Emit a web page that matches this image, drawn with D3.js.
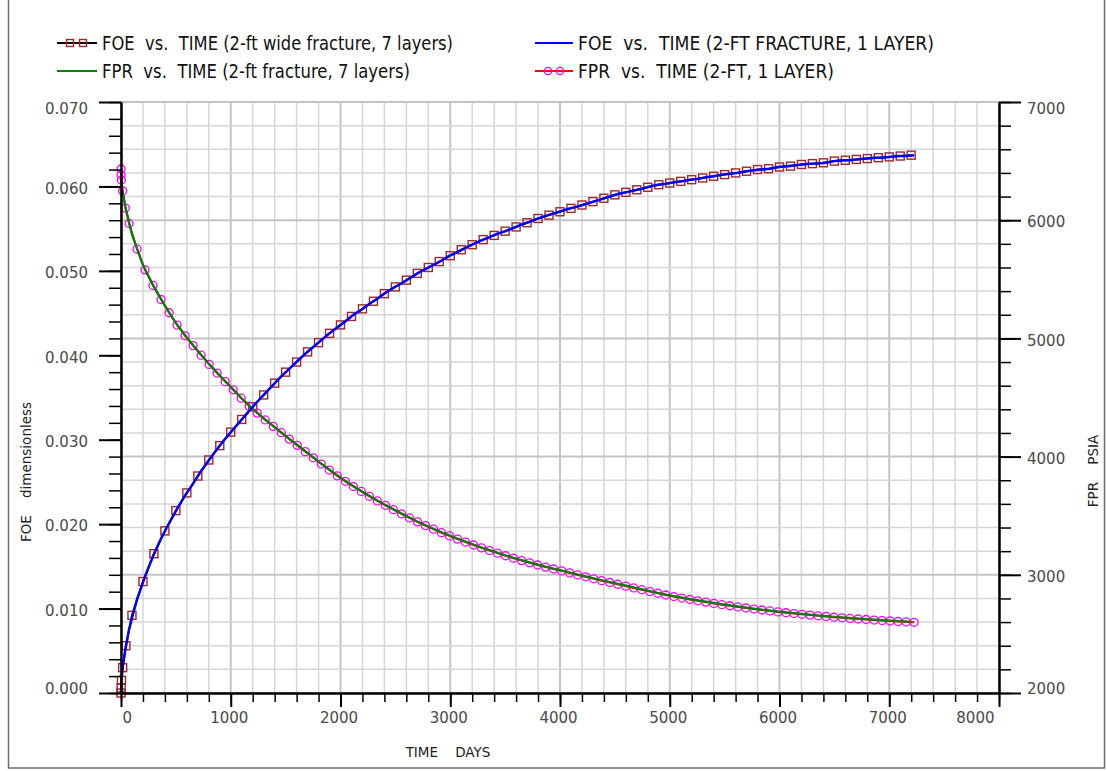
<!DOCTYPE html>
<html>
<head>
<meta charset="utf-8">
<script src="https://cdn.jsdelivr.net/npm/d3@7"></script>
<style>
  html, body { margin: 0; padding: 0; background: #fff; }
  svg { display: block; }
  text { font-family: "DejaVu Sans", sans-serif; }
</style>
</head>
<body>
<svg id="chart" width="1107" height="771"></svg>
<script>
// ---- Simulation output: 2-ft fracture, 7-layer model (report every 100 days) ----
const timeSevenLayers = [0, 1, 4, 15, 45, 100, 200, 300, 400, 500, 600, 700, 800, 900, 1000,
  1100, 1200, 1300, 1400, 1500, 1600, 1700, 1800, 1900, 2000, 2100, 2200, 2300, 2400, 2500,
  2600, 2700, 2800, 2900, 3000, 3100, 3200, 3300, 3400, 3500, 3600, 3700, 3800, 3900, 4000,
  4100, 4200, 4300, 4400, 4500, 4600, 4700, 4800, 4900, 5000, 5100, 5200, 5300, 5400, 5500,
  5600, 5700, 5800, 5900, 6000, 6100, 6200, 6300, 6400, 6500, 6600, 6700, 6800, 6900, 7000,
  7100, 7200];
const foeSevenLayers = [0.0000, 0.0006, 0.0015, 0.0030, 0.0056, 0.0092, 0.0132, 0.0165, 0.0192,
  0.0216, 0.0237, 0.0257, 0.0276, 0.0293, 0.0309, 0.0324, 0.0339, 0.0353, 0.0367, 0.0380,
  0.0392, 0.0404, 0.0415, 0.0426, 0.0436, 0.0446, 0.0455, 0.0464, 0.0473, 0.0481, 0.0489,
  0.0497, 0.0504, 0.0511, 0.0518, 0.0525, 0.0531, 0.0537, 0.0542, 0.0547, 0.0552, 0.0557,
  0.0562, 0.0566, 0.0570, 0.0574, 0.0578, 0.0582, 0.0586, 0.0590, 0.0593, 0.0596, 0.0599,
  0.0602, 0.0604, 0.0606, 0.0608, 0.0610, 0.0612, 0.0614, 0.0616, 0.0618, 0.0620, 0.0621,
  0.0623, 0.0624, 0.0626, 0.0627, 0.0628, 0.0630, 0.0631, 0.0632, 0.0633, 0.0634, 0.0635,
  0.0636, 0.0637];
const fprSevenLayers = [6330, 6318, 6295, 6240, 6095, 5880, 5620, 5438, 5277, 5130, 5008, 4894,
  4787, 4687, 4590, 4493, 4404, 4325, 4250, 4176, 4103, 4031, 3958, 3889, 3822, 3761, 3703,
  3648, 3596, 3546, 3498, 3452, 3409, 3368, 3330, 3294, 3260, 3227, 3196, 3166, 3138, 3111,
  3086, 3062, 3040, 3017, 2994, 2972, 2950, 2929, 2908, 2887, 2866, 2846, 2826, 2809, 2792,
  2777, 2762, 2748, 2735, 2722, 2710, 2699, 2689, 2679, 2670, 2661, 2653, 2645, 2638, 2631,
  2625, 2619, 2613, 2608, 2603];

// ---- Simulation output: 2-ft fracture, 1-layer model (report every 0.2 year) ----
const timeOneLayer = [0, 1, 4, 15, 40, 73, 146, 219, 292, 365, 438, 511, 584, 657, 730, 803,
  876, 949, 1022, 1095, 1168, 1241, 1314, 1387, 1460, 1533, 1606, 1679, 1752, 1825, 1898,
  1971, 2044, 2117, 2190, 2263, 2336, 2409, 2482, 2555, 2628, 2701, 2774, 2847, 2920, 2993,
  3066, 3139, 3212, 3285, 3358, 3431, 3504, 3577, 3650, 3723, 3796, 3869, 3942, 4015, 4088,
  4161, 4234, 4307, 4380, 4453, 4526, 4599, 4672, 4745, 4818, 4891, 4964, 5037, 5110, 5183,
  5256, 5329, 5402, 5475, 5548, 5621, 5694, 5767, 5840, 5913, 5986, 6059, 6132, 6205, 6278,
  6351, 6424, 6497, 6570, 6643, 6716, 6789, 6862, 6935, 7008, 7081, 7154, 7227];
const foeOneLayer = [0.0000, 0.0006, 0.0015, 0.0030, 0.0052, 0.0075, 0.0111, 0.0138, 0.0162,
  0.0183, 0.0201, 0.0218, 0.0234, 0.0248, 0.0263, 0.0276, 0.0289, 0.0301, 0.0312, 0.0323,
  0.0334, 0.0345, 0.0355, 0.0365, 0.0375, 0.0384, 0.0393, 0.0402, 0.0410, 0.0418, 0.0426,
  0.0433, 0.0440, 0.0448, 0.0454, 0.0461, 0.0467, 0.0474, 0.0480, 0.0485, 0.0491, 0.0497,
  0.0502, 0.0507, 0.0512, 0.0518, 0.0522, 0.0527, 0.0532, 0.0536, 0.0540, 0.0544, 0.0547,
  0.0551, 0.0555, 0.0558, 0.0562, 0.0565, 0.0568, 0.0571, 0.0574, 0.0576, 0.0579, 0.0582,
  0.0585, 0.0588, 0.0591, 0.0593, 0.0595, 0.0597, 0.0600, 0.0602, 0.0603, 0.0605, 0.0606,
  0.0608, 0.0609, 0.0611, 0.0612, 0.0614, 0.0615, 0.0616, 0.0618, 0.0619, 0.0620, 0.0621,
  0.0623, 0.0624, 0.0625, 0.0626, 0.0627, 0.0627, 0.0628, 0.0630, 0.0631, 0.0631, 0.0632,
  0.0633, 0.0634, 0.0634, 0.0635, 0.0636, 0.0636, 0.0637];
const fprOneLayer = [6433, 6382, 6340, 6247, 6103, 5972, 5756, 5580, 5448, 5329, 5217, 5113,
  5022, 4939, 4858, 4780, 4707, 4634, 4565, 4494, 4427, 4368, 4310, 4256, 4202, 4148, 4095,
  4042, 3990, 3937, 3886, 3837, 3791, 3747, 3705, 3664, 3625, 3588, 3551, 3516, 3481, 3448,
  3416, 3386, 3356, 3329, 3302, 3277, 3252, 3228, 3205, 3183, 3161, 3140, 3120, 3101, 3083,
  3065, 3049, 3033, 3016, 2999, 2983, 2966, 2950, 2935, 2920, 2904, 2889, 2874, 2858, 2844,
  2829, 2816, 2803, 2791, 2780, 2769, 2758, 2747, 2738, 2728, 2719, 2710, 2702, 2694, 2686,
  2679, 2672, 2666, 2659, 2653, 2647, 2641, 2636, 2631, 2626, 2622, 2617, 2613, 2609, 2605,
  2601, 2598];

// ---- Axis ticks and labels ----
const timeTicks = [0, 1000, 2000, 3000, 4000, 5000, 6000, 7000, 8000];
const foeTicks = [0, 0.01, 0.02, 0.03, 0.04, 0.05, 0.06, 0.07];
const fprTicks = [2000, 3000, 4000, 5000, 6000, 7000];
const legendLabels = [
  "FOE  vs.  TIME (2-ft wide fracture, 7 layers)",
  "FPR  vs.  TIME (2-ft fracture, 7 layers)",
  "FOE  vs.  TIME (2-FT FRACTURE, 1 LAYER)",
  "FPR  vs.  TIME (2-FT, 1 LAYER)"
];
const xTitle = "TIME    DAYS";
const yLeftTitle = "FOE    dimensionless";
const yRightTitle = "FPR    PSIA";

// ---- Layout ----
const plot = { left: 121, right: 999, top: 102, bottom: 693 };
const svg = d3.select("#chart");

const x = d3.scaleLinear().domain([0, 8000]).range([plot.left, plot.right]);
const yFoe = d3.scaleLinear().domain([0, 0.07]).range([plot.bottom, plot.top]);
const yFpr = d3.scaleLinear().domain([2000, 7000]).range([plot.bottom, plot.top]);

// outer frame
svg.append("rect")
  .attr("x", 8.5).attr("y", -2).attr("width", 1096).attr("height", 770)
  .attr("fill", "none").attr("stroke", "#6e6e6e").attr("stroke-width", 1.5);

// ---- Grid: every 200 days vertically, every 200 psia horizontally ----
const grid = svg.append("g");
const xMinor = d3.range(0, 8001, 200);
const yMinor = d3.range(2000, 7001, 200);
grid.selectAll(".gx").data(xMinor).join("line")
  .attr("x1", d => x(d)).attr("x2", d => x(d))
  .attr("y1", plot.top).attr("y2", plot.bottom)
  .attr("stroke", d => d % 1000 === 0 ? "#c4c4c4" : "#d6d6d6")
  .attr("stroke-width", d => d % 1000 === 0 ? 2 : 1.5);
grid.selectAll(".gy").data(yMinor).join("line")
  .attr("x1", plot.left).attr("x2", plot.right)
  .attr("y1", d => yFpr(d)).attr("y2", d => yFpr(d))
  .attr("stroke", d => d % 1000 === 0 ? "#c4c4c4" : "#d6d6d6")
  .attr("stroke-width", d => d % 1000 === 0 ? 2 : 1.5);

// ---- Series ----
const series = svg.append("g");
const foeLine = (t, v) => d3.line().x((d, i) => x(t[i])).y(d => yFoe(d))(v);
const fprLine = (t, v) => d3.line().x((d, i) => x(t[i])).y(d => yFpr(d))(v);

// FOE, 7 layers: black line with open squares
series.append("path").attr("d", foeLine(timeSevenLayers, foeSevenLayers))
  .attr("fill", "none").attr("stroke", "#000").attr("stroke-width", 2);
series.selectAll(".sq").data(foeSevenLayers).join("rect")
  .attr("x", (d, i) => x(timeSevenLayers[i]) - 4).attr("y", d => yFoe(d) - 4)
  .attr("width", 8).attr("height", 8)
  .attr("fill", "none").attr("stroke", "#a02828").attr("stroke-width", 1.4);

// FPR, 1 layer: red line with open magenta circles
series.append("path").attr("d", fprLine(timeOneLayer, fprOneLayer))
  .attr("fill", "none").attr("stroke", "#ff0000").attr("stroke-width", 2);
series.selectAll(".ci").data(fprOneLayer).join("circle")
  .attr("cx", (d, i) => x(timeOneLayer[i])).attr("cy", d => yFpr(d)).attr("r", 4)
  .attr("fill", "none").attr("stroke", "#ff00ff").attr("stroke-width", 1.3);

// FPR, 7 layers: green line
series.append("path").attr("d", fprLine(timeSevenLayers, fprSevenLayers))
  .attr("fill", "none").attr("stroke", "#008000").attr("stroke-width", 2.2);

// FOE, 1 layer: blue line
series.append("path").attr("d", foeLine(timeOneLayer, foeOneLayer))
  .attr("fill", "none").attr("stroke", "#0000ff").attr("stroke-width", 2.4);

// ---- Axes ----
function styleAxis(g, major) {
  g.select(".domain").attr("stroke", "#000").attr("stroke-width", 2);
  g.selectAll(".tick line").attr("stroke", "#000").attr("stroke-width", major ? 2 : 1.5);
  g.selectAll(".tick text").attr("fill", "#4a4a4a").attr("font-size", 15)
    .attr("font-family", "DejaVu Sans, sans-serif");
}

// left: FOE
const gLeftMinor = svg.append("g").attr("transform", `translate(${plot.left},0)`)
  .call(d3.axisLeft(yFoe).tickValues(d3.range(0, 0.0701, 0.002)).tickSize(12).tickSizeOuter(0).tickFormat(""));
styleAxis(gLeftMinor, false);
const gLeft = svg.append("g").attr("transform", `translate(${plot.left},0)`)
  .call(d3.axisLeft(yFoe).tickValues(foeTicks).tickSize(22).tickPadding(11).tickSizeOuter(0)
    .tickFormat(d3.format(".3f")));
styleAxis(gLeft, true);
gLeft.selectAll(".tick text")
  .attr("dy", d => d === 0.07 ? "0.78em" : d === 0 ? "0em" : "0.45em");

// right: FPR
const gRightMinor = svg.append("g").attr("transform", `translate(${plot.right},0)`)
  .call(d3.axisRight(yFpr).tickValues(yMinor).tickSize(12).tickSizeOuter(0).tickFormat(""));
styleAxis(gRightMinor, false);
const gRight = svg.append("g").attr("transform", `translate(${plot.right},0)`)
  .call(d3.axisRight(yFpr).tickValues(fprTicks).tickSize(22).tickPadding(6).tickSizeOuter(0)
    .tickFormat(d3.format("d")));
styleAxis(gRight, true);
gRight.selectAll(".tick text")
  .attr("dy", d => d === 7000 ? "0.78em" : d === 2000 ? "0em" : "0.45em");

// bottom: TIME
const gBottomMinor = svg.append("g").attr("transform", `translate(0,${plot.bottom})`)
  .call(d3.axisBottom(x).tickValues(xMinor).tickSize(9).tickSizeOuter(0).tickFormat(""));
styleAxis(gBottomMinor, false);
const gBottom = svg.append("g").attr("transform", `translate(0,${plot.bottom})`)
  .call(d3.axisBottom(x).tickValues(timeTicks).tickSize(14).tickPadding(5).tickSizeOuter(0)
    .tickFormat(d3.format("d")));
styleAxis(gBottom, true);
gBottom.selectAll(".tick text")
  .attr("text-anchor", d => d === 0 ? "start" : d === 8000 ? "end" : "middle")
  .attr("dx", d => d === 0 ? 1 : d === 8000 ? -5 : -2);

// ---- Axis titles ----
svg.append("text").attr("x", 448).attr("y", 757)
  .attr("text-anchor", "middle").attr("font-size", 13.5).attr("fill", "#222")
  .style("white-space", "pre").text(xTitle);
svg.append("text").attr("transform", "translate(31,472) rotate(-90)")
  .attr("text-anchor", "middle").attr("font-size", 13.5).attr("fill", "#222")
  .style("white-space", "pre").text(yLeftTitle);
svg.append("text").attr("transform", "translate(1098,471) rotate(-90)")
  .attr("text-anchor", "middle").attr("font-size", 13.5).attr("fill", "#222")
  .style("white-space", "pre").text(yRightTitle);

// ---- Legend ----
const legendItems = [
  { label: legendLabels[0], x0: 57, x1: 97, y: 43, color: "#000", marker: "square", mx: [70, 83], width: 351 },
  { label: legendLabels[1], x0: 57, x1: 97, y: 71, color: "#008000", marker: null, width: 308 },
  { label: legendLabels[2], x0: 535, x1: 573, y: 43, color: "#0000ff", marker: null, width: 356 },
  { label: legendLabels[3], x0: 535, x1: 573, y: 71, color: "#ff0000", marker: "circle", mx: [548, 560], width: 256 }
];
const legend = svg.append("g");
legendItems.forEach(it => {
  const g = legend.append("g");
  g.append("line").attr("x1", it.x0).attr("x2", it.x1).attr("y1", it.y).attr("y2", it.y)
    .attr("stroke", it.color).attr("stroke-width", 2.2);
  if (it.marker === "square") {
    it.mx.forEach(mx => g.append("rect").attr("x", mx - 3.5).attr("y", it.y - 3.5)
      .attr("width", 7).attr("height", 7).attr("fill", "none")
      .attr("stroke", "#a02828").attr("stroke-width", 1.4));
  } else if (it.marker === "circle") {
    it.mx.forEach(mx => g.append("circle").attr("cx", mx).attr("cy", it.y).attr("r", 3.6)
      .attr("fill", "none").attr("stroke", "#ff00ff").attr("stroke-width", 1.3));
  }
  g.append("text").attr("x", it.x1 + 5).attr("y", it.y + 7)
    .attr("font-family", "Liberation Sans, Arial, sans-serif").attr("font-size", 19)
    .attr("fill", "#111").style("white-space", "pre")
    .attr("textLength", it.width).attr("lengthAdjust", "spacingAndGlyphs")
    .text(it.label);
});
</script>
</body>
</html>
